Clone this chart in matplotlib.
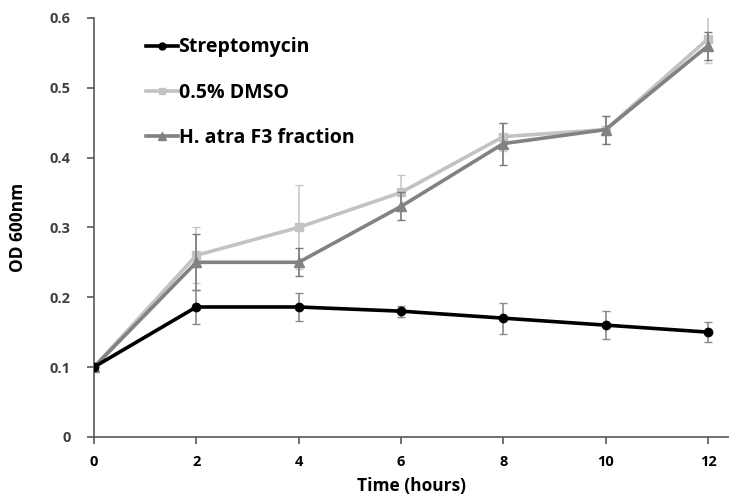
import numpy as np
import matplotlib
matplotlib.use('Agg')
import matplotlib.pyplot as plt
from matplotlib.lines import Line2D

plt.rcParams['font.family'] = ['Open Sans', 'DejaVu Sans']

hours = [0, 2, 4, 6, 8, 10, 12]

strep = [0.1, 0.186, 0.186, 0.18, 0.17, 0.16, 0.15]
strep_err = [0.0, 0.025, 0.02, 0.008, 0.022, 0.02, 0.014]

dmso = [0.1, 0.26, 0.3, 0.35, 0.43, 0.44, 0.57]
dmso_err = [0.0, 0.04, 0.06, 0.025, 0.02, 0.02, 0.035]

f3 = [0.1, 0.25, 0.25, 0.33, 0.42, 0.44, 0.56]
f3_err = [0.0, 0.04, 0.02, 0.02, 0.03, 0.02, 0.02]

fig = plt.figure(figsize=(7.29, 4.97), dpi=100)
ax = fig.add_axes([0.129, 0.121, 0.871, 0.843])

ax.errorbar(hours, dmso, yerr=dmso_err, color='#c3c3c3', lw=2.6, marker='s', ms=6,
            ecolor='#c8c8c8', elinewidth=1.2, capsize=3, zorder=2)
ax.errorbar(hours, f3, yerr=f3_err, color='#828282', lw=2.6, marker='^', ms=7,
            ecolor='#7a7a7a', elinewidth=1.2, capsize=3, zorder=3)
ax.errorbar(hours, strep, yerr=strep_err, color='black', lw=2.6, marker='o', ms=6,
            ecolor='#8a8a8a', elinewidth=1.2, capsize=3, zorder=4)

ax.set_xlim(0, 12.41)
ax.set_ylim(0, 0.6)
ax.set_xticks(hours)
ax.set_xticklabels([str(h) for h in hours])
ax.set_yticks([0, 0.1, 0.2, 0.3, 0.4, 0.5, 0.6])
ax.set_yticklabels(['0', '0.1', '0.2', '0.3', '0.4', '0.5', '0.6'])

for s in ['top', 'right']:
    ax.spines[s].set_visible(False)
for s in ['left', 'bottom']:
    ax.spines[s].set_color('#595959')
    ax.spines[s].set_linewidth(1.2)
ax.tick_params(axis='both', direction='out', length=5, width=1.2, color='#595959')
ax.tick_params(axis='y', labelcolor='#404040', pad=12)
ax.tick_params(axis='x', labelcolor='black', pad=8)
for lab in ax.get_xticklabels() + ax.get_yticklabels():
    lab.set_fontweight('bold')
    lab.set_fontsize(10.5)

ax.set_xlabel('Time (hours)', fontsize=12.5, fontweight='bold', labelpad=6)
ax.set_ylabel('OD 600nm', fontsize=12.5, fontweight='bold', labelpad=16)

handles = [
    Line2D([], [], color='black', lw=2.6, marker='o', ms=5),
    Line2D([], [], color='#c3c3c3', lw=2.6, marker='s', ms=5),
    Line2D([], [], color='#828282', lw=2.6, marker='^', ms=6),
]
labels = ['Streptomycin', '0.5% DMSO', 'H. atra F3 fraction']
ax.legend(handles, labels, loc='upper left', bbox_to_anchor=(0.055, 0.995), frameon=False,
          handlelength=1.6, handletextpad=0.05, labelspacing=1.3,
          prop={'weight': 'bold', 'size': 14})

fig.savefig('out.png', dpi=100)
